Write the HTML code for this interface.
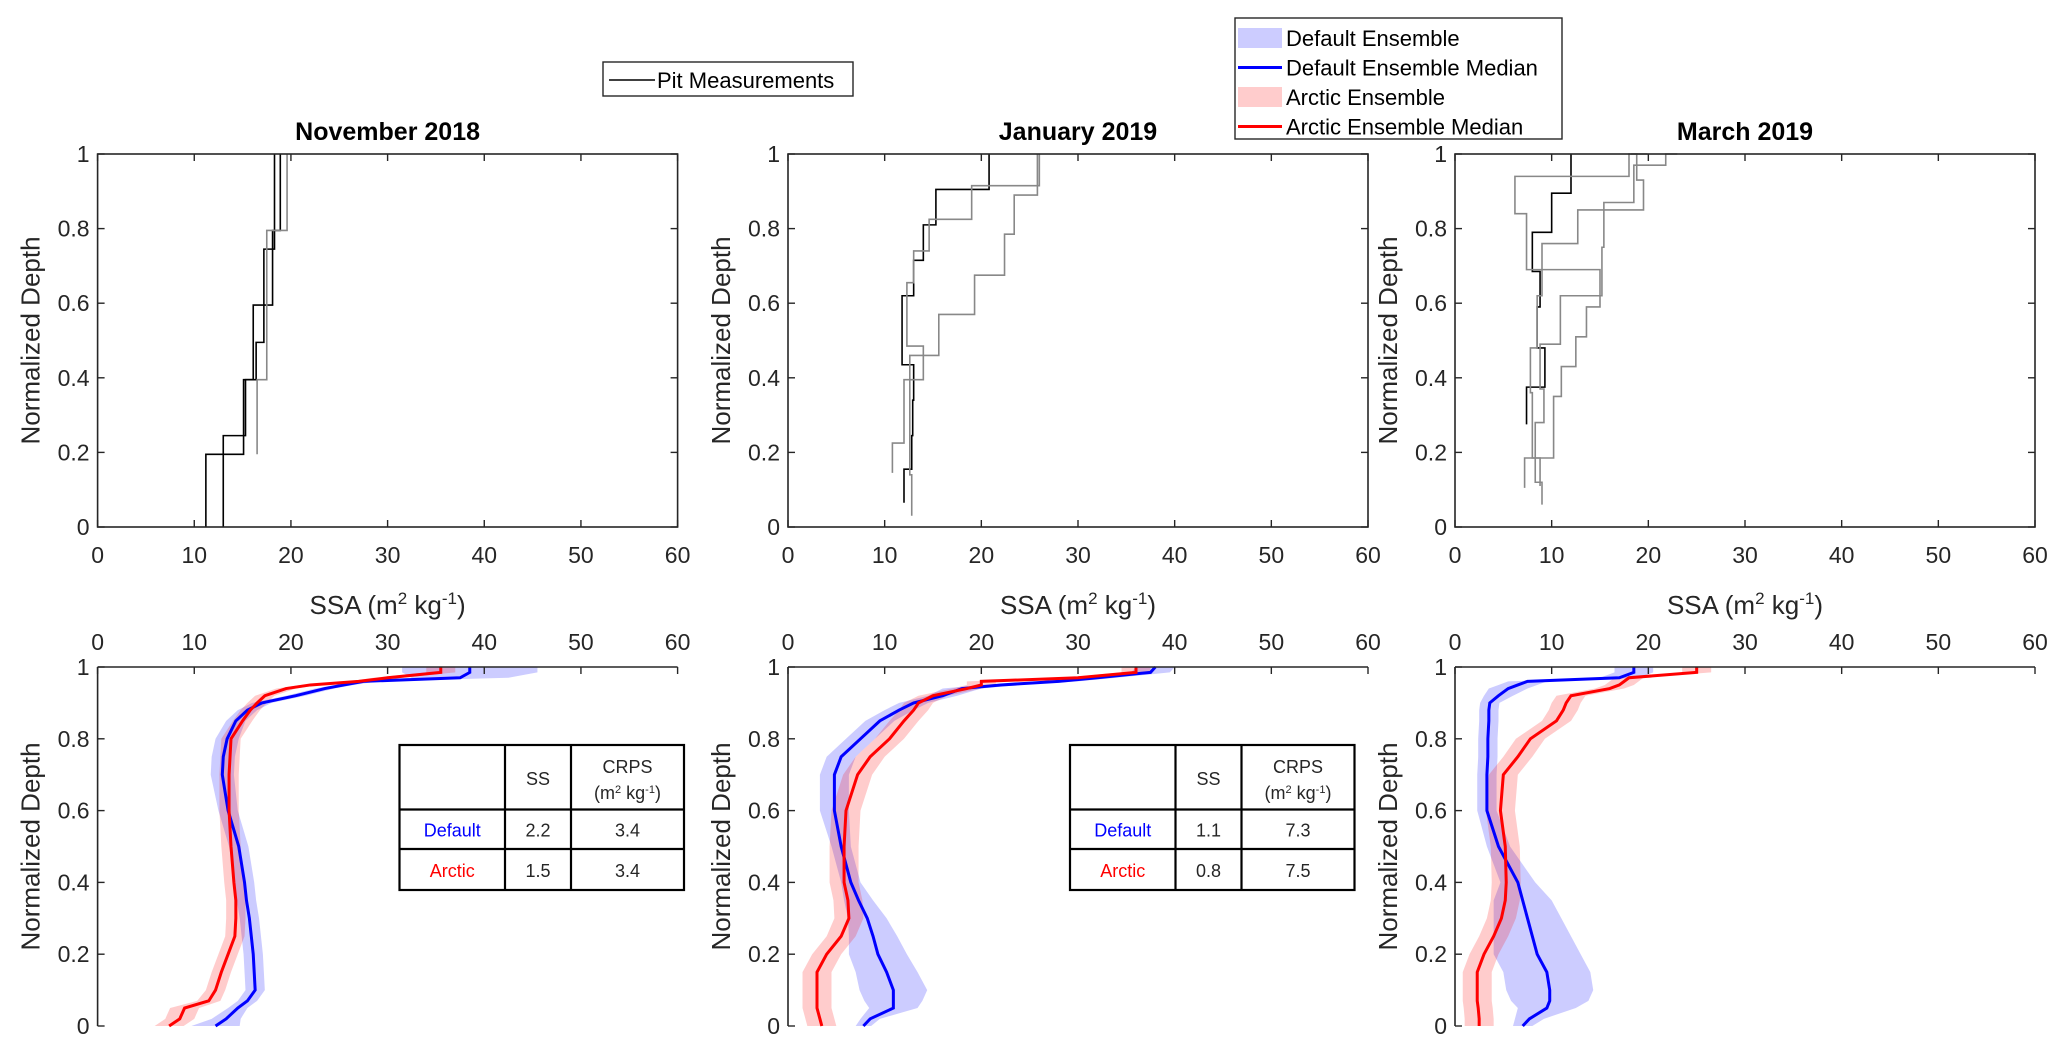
<!DOCTYPE html>
<html><head><meta charset="utf-8"><style>
body{margin:0;background:#fff}
svg text{font-family:"Liberation Sans Narrow","Liberation Sans",sans-serif;fill:#262626}
.tl{font-size:23px}
.yl{font-family:"Liberation Sans",sans-serif !important;font-size:26px}
.ti{font-size:25px;font-weight:bold;fill:#000}
</style></head><body>
<svg id="fig" width="2067" height="1054" viewBox="0 0 2067 1054" xmlns="http://www.w3.org/2000/svg"></svg>
<script>
// ---- data ----
const panelTitles = ["November 2018","January 2019","March 2019"];
const xTicks = [0,10,20,30,40,50,60];
const yTicks = [0,0.2,0.4,0.6,0.8,1];
const pitNov = [
 {c:"#000",b:[0,0.195,0.395,0.495,0.745,1],v:[11.2,15.1,16.4,17.2,18.3]},
 {c:"#000",b:[0,0.245,0.395,0.595,0.795,1],v:[13,15.3,16.1,18.1,18.9]},
 {c:"#888",b:[0.195,0.395,0.795,1],v:[16.5,17.5,19.6]}];
const pitJan = [
 {c:"#000",b:[0.065,0.155,0.245,0.34,0.435,0.62,0.715,0.81,0.905,1],v:[12,12.8,12.9,13,11.8,13,14,15.3,20.8]},
 {c:"#888",b:[0.145,0.225,0.395,0.485,0.655,0.74,0.825,0.915,1],v:[10.8,12,14,12.3,13,14.6,19,26]},
 {c:"#888",b:[0.03,0.14,0.46,0.57,0.675,0.785,0.89,1],v:[12.8,12.6,15.6,19.3,22.4,23.4,25.8]}];
const pitMar = [
 {c:"#000",b:[0.275,0.375,0.48,0.59,0.685,0.79,0.895,1],v:[7.4,9.3,8.5,8.8,8,10,12]},
 {c:"#888",b:[0.105,0.185,0.35,0.43,0.51,0.59,0.69,0.84,0.94,1],v:[7.2,10.2,11,12.5,13.6,15,7.4,6.2,18,19.9]},
 {c:"#888",b:[0.06,0.12,0.28,0.37,0.49,0.62,0.75,0.87,0.97,1],v:[9,8.3,9.2,8.8,10.9,15.2,15.4,18.5,21.8,23]},
 {c:"#888",b:[0.11,0.185,0.36,0.48,0.62,0.76,0.85,0.93,1],v:[8.8,8,7.8,8.5,9,12.7,19.5,18.8,18.2]}];
const pits = [pitNov,pitJan,pitMar];
const depths = [0,0.02,0.05,0.07,0.1,0.15,0.2,0.25,0.3,0.35,0.4,0.5,0.6,0.7,0.75,0.8,0.85,0.88,0.9,0.92,0.94,0.95,0.96,0.97,0.985,1];
const novDefault = [12.2,13.3,14.5,15.5,16.3,16.2,16.1,15.9,15.7,15.4,15.2,14.6,13.5,12.9,13,13.4,14.3,15.5,17,20.5,23.5,25.5,27.5,37.5,38.5,38.5];
const novDefaultSpread = [2.5,1.5,1,1,1,1,1,1,1,1,1,1,1,1.2,1.2,1.2,1,1,1,1,1,1,1.5,5,7,7];
const novArctic = [7.4,8.5,9,11.5,12.2,12.8,13.5,14.2,14.3,14.3,14.1,13.8,13.6,13.6,13.7,13.8,15,15.8,16.5,17.3,19.5,22,27,30,35.5,35.5];
const novArcticSpread = [1.5,1.5,1.5,1.2,1,1,1,1,1,1,1,1,1,1,1,1,1,1,1,1,1,1,1,1.5,1.5,1.5];
const janDefault = [7.8,8.5,10.9,10.9,10.9,10.2,9.3,8.8,8.2,7.3,6.5,5.5,4.8,4.8,5.5,7.5,9.5,11.5,13,16,18,22,28,32,37.5,38];
const janDefaultSpread = [0.8,1,2.5,3,3.5,3.2,3,2.5,2,1.5,1,1,1.5,1.5,1.5,1.5,1.5,1.5,1.5,1.5,2,2,2,2,2,2];
const janArctic = [3.5,3.3,3,3,3,3,4,5.5,6.3,6.2,5.8,5.8,6,7.2,8.5,10.5,12,13,13.5,15,18.5,20,20,30,36,36];
const janArcticSpread = [1.5,1.5,1.5,1.5,1.5,1.5,1.5,1.5,1.5,1.5,1.5,1.5,1.5,1.5,1.5,1.5,1.5,1.5,1.5,1.5,1.5,1.5,1.5,1.5,1.5,1.5];
const marDefault = [7,7.7,9.5,9.8,9.8,9.5,8.5,8,7.5,7,6.5,4.5,3.3,3.3,3.4,3.4,3.5,3.5,3.6,4.5,5.5,6.5,7.5,17,18.5,18.5];
const marDefaultSpread = [1,1.5,3,4,4.5,4.5,4.5,4,3.5,3,1.8,1.2,1,1,1,1,1,1,1,1.5,2,2,2,2,2,2];
const marArctic = [2.5,2.5,2.4,2.3,2.3,2.3,3,4,4.8,5.2,5.3,5.2,4.7,5,6.5,7.8,10.5,11.2,11.5,12,16,17,17.5,18,25,25];
const marArcticSpread = [1.5,1.5,1.5,1.5,1.5,1.5,1.5,1.5,1.5,1.5,1.5,1.5,1.5,1.5,1.5,1.5,1.5,1.5,1.5,1.5,1.5,1.5,1.5,1.5,1.5,1.5];
const ens = [[novDefault,novDefaultSpread,novArctic,novArcticSpread],[janDefault,janDefaultSpread,janArctic,janArcticSpread],[marDefault,marDefaultSpread,marArctic,marArcticSpread]];
const tableRows = [["Default","2.2","3.4","Arctic","1.5","3.4"],["Default","1.1","7.3","Arctic","0.8","7.5"]];

// ---- layout ----
const NS="http://www.w3.org/2000/svg";
const svg=document.getElementById('fig');
const PX=[97.6,788,1455], PW=580;
const TOP={y1:154,y0:527}, BOT={y1:667,y0:1026};
function el(tag,attrs,parent,txt){const e=document.createElementNS(NS,tag);for(const k in attrs)e.setAttribute(k,attrs[k]);if(txt!==undefined)e.textContent=txt;(parent||svg).appendChild(e);return e;}
function xs(p,v){return PX[p]+v/60*PW;}
function ys(r,d){return r.y0-(r.y0-r.y1)*d;}

for(let p=0;p<3;p++){
  const g=el('g',{});
  
  
  const t=el('text',{x:xs(p,30),y:140,'text-anchor':'middle',class:'ti'},g,panelTitles[p]);
  
  
  pits[p].forEach((s,i)=>{
    let d='';
    for(let k=0;k<s.v.length;k++){
      const x=xs(p,s.v[k]);
      d+=(k==0?'M':'L')+x+','+ys(TOP,s.b[k])+'L'+x+','+ys(TOP,s.b[k+1]);
    }
    const pa=el('path',{d:d,fill:'none',stroke:s.c,'stroke-width':1.6},g);
    
    
  });
  const bx=el('rect',{x:PX[p],y:TOP.y1,width:PW,height:TOP.y0-TOP.y1,fill:'none',stroke:'#262626','stroke-width':1.6},g);
  
  
  xTicks.forEach(v=>{const x=xs(p,v);
    el('line',{x1:x,x2:x,y1:TOP.y0,y2:TOP.y0-7,stroke:'#262626','stroke-width':1.4},g);
    el('line',{x1:x,x2:x,y1:TOP.y1,y2:TOP.y1+7,stroke:'#262626','stroke-width':1.4},g);
    const tx=el('text',{x:x,y:563,'text-anchor':'middle',class:'tl'},g,String(v));
    
    });
  yTicks.forEach(v=>{const y=ys(TOP,v);
    el('line',{x1:PX[p],x2:PX[p]+7,y1:y,y2:y,stroke:'#262626','stroke-width':1.4},g);
    el('line',{x1:PX[p]+PW,x2:PX[p]+PW-7,y1:y,y2:y,stroke:'#262626','stroke-width':1.4},g);
    const ty=el('text',{x:PX[p]-8,y:y+8,'text-anchor':'end',class:'tl'},g,String(v));
    
    });
  const xl=el('text',{x:xs(p,30),y:614,'text-anchor':'middle',class:'tl',style:'font-size:26px'},g);
  xl.innerHTML='SSA (m<tspan dy="-10" font-size="17">2</tspan><tspan dy="10"> kg</tspan><tspan dy="-10" font-size="17">-1</tspan><tspan dy="10">)</tspan>';
  
  
  const yl=el('text',{x:0,y:0,'text-anchor':'middle',class:'yl',transform:`translate(${PX[p]-58},${(TOP.y0+TOP.y1)/2}) rotate(-90)`},g,'Normalized Depth');
  
  

  const h=el('g',{});
  
  
  const [dm,ds,am,as]=ens[p];
  function band(m,s,col,name){
    let pts=[];
    for(let i=0;i<depths.length;i++)pts.push(xs(p,Math.max(0,m[i]-s[i]))+','+ys(BOT,depths[i]));
    for(let i=depths.length-1;i>=0;i--)pts.push(xs(p,m[i]+s[i])+','+ys(BOT,depths[i]));
    const b=el('polygon',{points:pts.join(' '),fill:col,'fill-opacity':0.2,stroke:'none'},h);
    
    
  }
  function line(m,col,name){
    const pts=depths.map((d,i)=>xs(p,m[i])+','+ys(BOT,d)).join(' ');
    const l=el('polyline',{points:pts,fill:'none',stroke:col,'stroke-width':3},h);
    
    
  }
  band(dm,ds,'#0000ff','default-ensemble-band');
  band(am,as,'#ff0000','arctic-ensemble-band');
  line(dm,'#0000ff','default-median-line');
  line(am,'#ff0000','arctic-median-line');
  el('line',{x1:PX[p],x2:PX[p]+PW,y1:BOT.y1,y2:BOT.y1,stroke:'#262626','stroke-width':1.6},h);
  el('line',{x1:PX[p],x2:PX[p],y1:BOT.y1,y2:BOT.y0,stroke:'#262626','stroke-width':1.6},h);
  xTicks.forEach(v=>{const x=xs(p,v);
    el('line',{x1:x,x2:x,y1:BOT.y1,y2:BOT.y1+7,stroke:'#262626','stroke-width':1.4},h);
    const tx=el('text',{x:x,y:650,'text-anchor':'middle',class:'tl'},h,String(v));
    
    });
  yTicks.forEach(v=>{const y=ys(BOT,v);
    el('line',{x1:PX[p],x2:PX[p]+7,y1:y,y2:y,stroke:'#262626','stroke-width':1.4},h);
    const ty=el('text',{x:PX[p]-8,y:y+8,'text-anchor':'end',class:'tl'},h,String(v));
    
    });
  const yl2=el('text',{x:0,y:0,'text-anchor':'middle',class:'yl',transform:`translate(${PX[p]-58},${(BOT.y0+BOT.y1)/2}) rotate(-90)`},h,'Normalized Depth');
  
  

  if(p<2){
    const tx0=[399.5,1070][p], cw=[105.5,66,113], rh=[64.5,39.5,41], ty0=745;
    const tg=el('g',{},h);
    
    
    const W=cw[0]+cw[1]+cw[2], H=rh[0]+rh[1]+rh[2];
    el('rect',{x:tx0,y:ty0,width:W,height:H,fill:'#fff',stroke:'#000','stroke-width':2.2},tg);
    el('line',{x1:tx0+cw[0],x2:tx0+cw[0],y1:ty0,y2:ty0+H,stroke:'#000','stroke-width':2.2},tg);
    el('line',{x1:tx0+cw[0]+cw[1],x2:tx0+cw[0]+cw[1],y1:ty0,y2:ty0+H,stroke:'#000','stroke-width':2.2},tg);
    el('line',{x1:tx0,x2:tx0+W,y1:ty0+rh[0],y2:ty0+rh[0],stroke:'#000','stroke-width':2.2},tg);
    el('line',{x1:tx0,x2:tx0+W,y1:ty0+rh[0]+rh[1],y2:ty0+rh[0]+rh[1],stroke:'#000','stroke-width':2.2},tg);
    const c1=tx0+cw[0]/2,c2=tx0+cw[0]+cw[1]/2,c3=tx0+cw[0]+cw[1]+cw[2]/2;
    el('text',{x:c2,y:ty0+40,'text-anchor':'middle',style:'font-size:18px',fill:'#000'},tg,'SS');
    el('text',{x:c3,y:ty0+28,'text-anchor':'middle',style:'font-size:18px'},tg,'CRPS');
    const u=el('text',{x:c3,y:ty0+54,'text-anchor':'middle',style:'font-size:18px'},tg);
    u.innerHTML='(m<tspan dy="-6" font-size="11">2</tspan><tspan dy="6"> kg</tspan><tspan dy="-6" font-size="11">-1</tspan><tspan dy="6">)</tspan>';
    const r=tableRows[p];
    const ya=ty0+rh[0]+27, yb=ty0+rh[0]+rh[1]+28;
    el('text',{x:c1,y:ya,'text-anchor':'middle',style:'font-size:18px;fill:#0000ff'},tg,r[0]);
    el('text',{x:c2,y:ya,'text-anchor':'middle',style:'font-size:18px'},tg,r[1]);
    el('text',{x:c3,y:ya,'text-anchor':'middle',style:'font-size:18px'},tg,r[2]);
    el('text',{x:c1,y:yb,'text-anchor':'middle',style:'font-size:18px;fill:#ff0000'},tg,r[3]);
    el('text',{x:c2,y:yb,'text-anchor':'middle',style:'font-size:18px'},tg,r[4]);
    el('text',{x:c3,y:yb,'text-anchor':'middle',style:'font-size:18px'},tg,r[5]);
  }
}
const lg1=el('g',{});


el('rect',{x:603,y:62,width:250,height:34,fill:'#fff',stroke:'#262626','stroke-width':1.4},lg1);
el('line',{x1:609,x2:655,y1:80,y2:80,stroke:'#000','stroke-width':1.6},lg1);
el('text',{x:657,y:88,style:'font-size:22px;fill:#000'},lg1,'Pit Measurements');
const lg2=el('g',{});


el('rect',{x:1235,y:18,width:327,height:121,fill:'#fff',stroke:'#262626','stroke-width':1.4},lg2);
const items=[["Default Ensemble","band","#0000ff"],["Default Ensemble Median","line","#0000ff"],["Arctic Ensemble","band","#ff0000"],["Arctic Ensemble Median","line","#ff0000"]];
items.forEach((it,i)=>{const y=38+i*29.5;
  if(it[1]=='band')el('rect',{x:1238,y:y-10,width:44,height:20,fill:it[2],'fill-opacity':0.2},lg2);
  else el('line',{x1:1238,x2:1282,y1:y,y2:y,stroke:it[2],'stroke-width':3},lg2);
  const lt=el('text',{x:1286,y:y+8,style:'font-size:22px;fill:#000'},lg2,it[0]);
  
  
});
</script>
</body></html>
